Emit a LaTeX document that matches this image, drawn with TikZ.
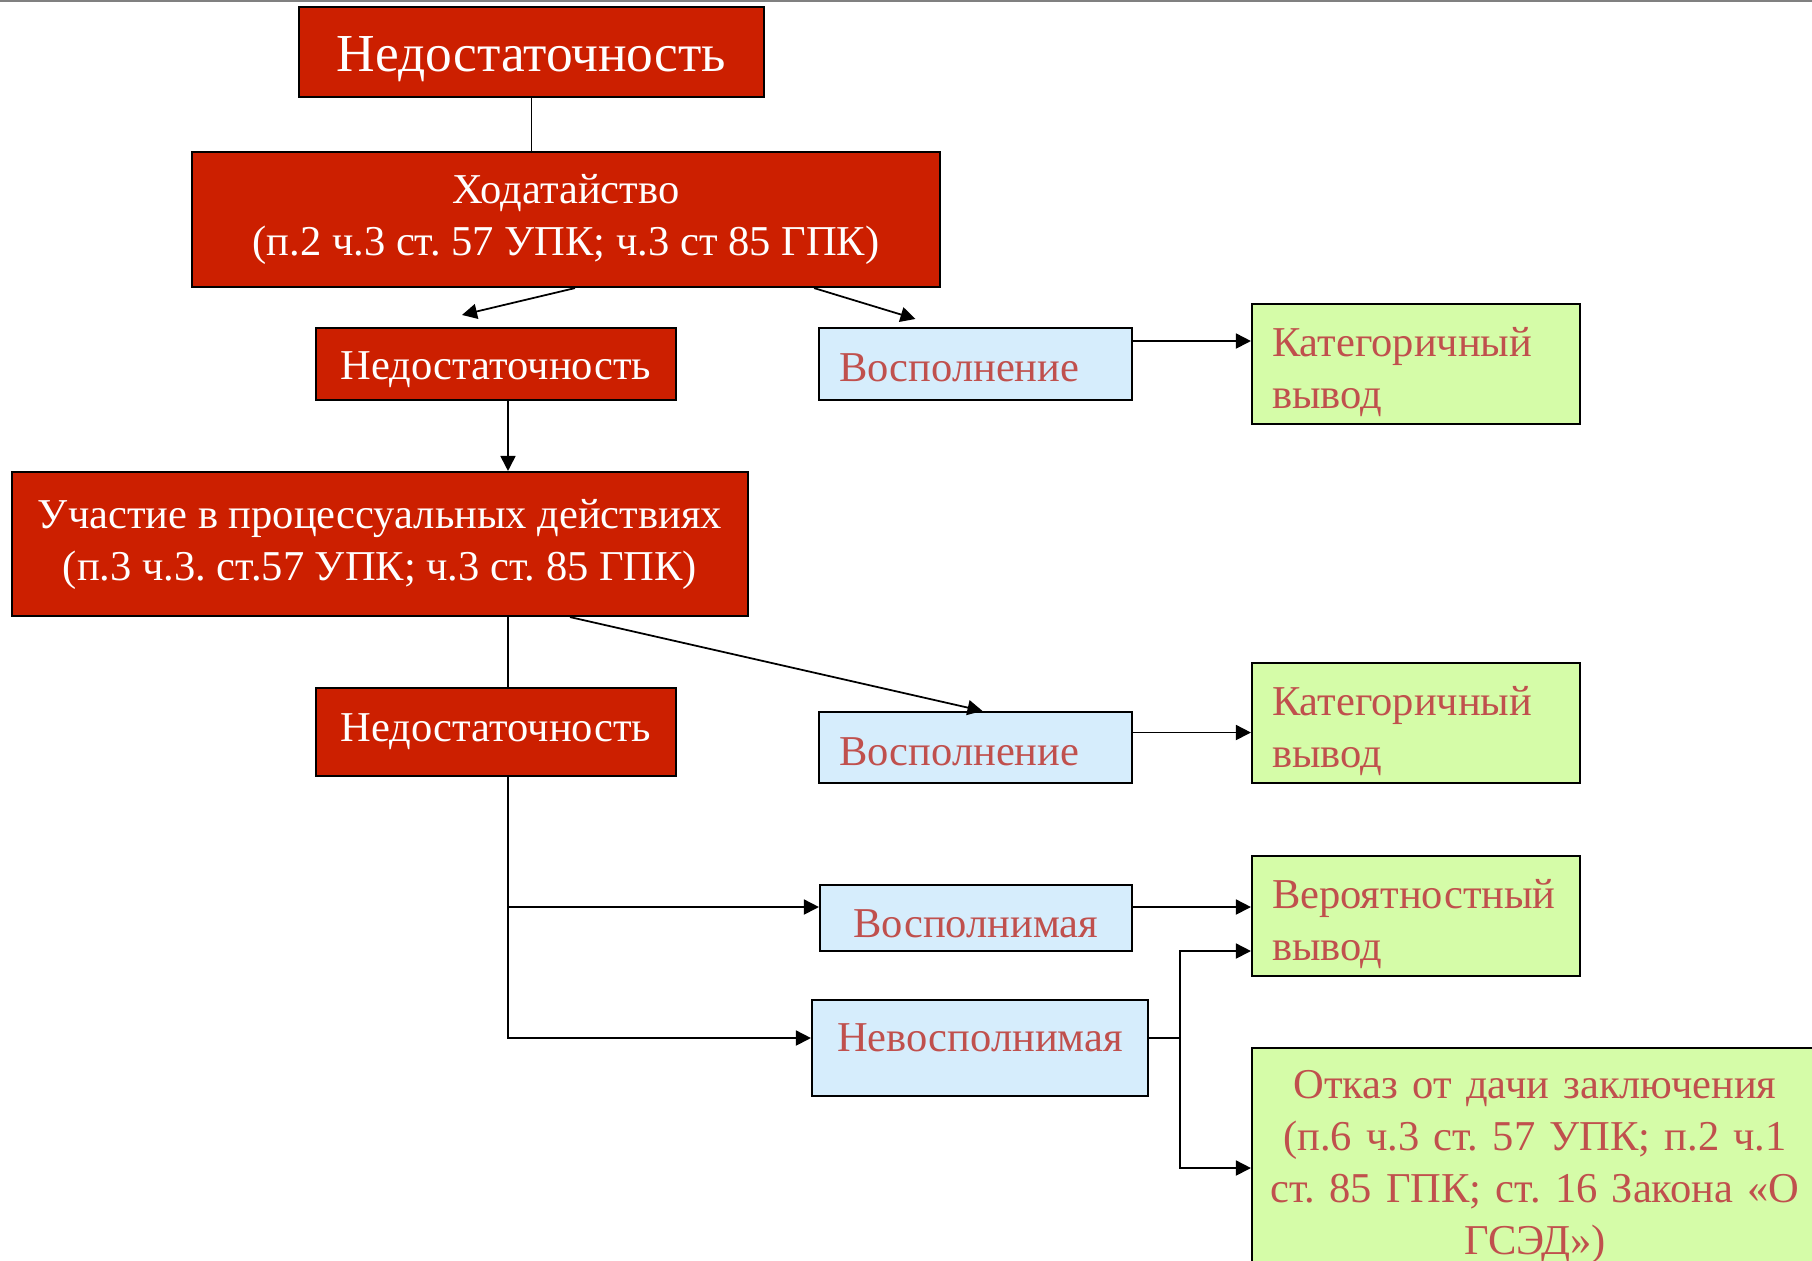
\documentclass[tikz,border=0pt]{standalone}
\usepackage{fontspec}
\setmainfont{Liberation Serif}
\frenchspacing
\usetikzlibrary{arrows.meta}
\definecolor{boxred}{RGB}{204,31,0}
\definecolor{boxblue}{RGB}{214,237,252}
\definecolor{boxgreen}{RGB}{213,252,168}
\definecolor{txtred}{RGB}{192,80,77}
\begin{document}
\begin{tikzpicture}[x=1cm,y=-1cm,
  box/.style={draw,line width=0.6pt,inner xsep=0.2cm,inner ysep=0pt,font=\fontsize{12.1}{14.8}\selectfont},
  low/.style={execute at begin node={\rule{0pt}{#1}}},
  redbox/.style={box,fill=boxred,text=white,align=center},
  bluebox/.style={box,fill=boxblue,text=txtred},
  greenbox/.style={box,fill=boxgreen,text=txtred,align=left,text width=2.88cm,minimum height=1.2cm,low=0.46cm},
  arr/.style={line width=0.5pt,-{Triangle[length=0.15cm,width=0.15cm]}},
  link/.style={line width=0.5pt}]
\clip (0,0) rectangle (18.12,12.60);
\draw[gray,line width=0.6pt](0,0.01)--(18.12,0.01);
% top of the scheme
\node[redbox,minimum width=4.65cm,minimum height=0.9cm,font=\fontsize{15.2}{18}\selectfont,low=0.5cm] (top) at (5.315,0.52) {Недостаточность};
\node[redbox,minimum width=7.48cm,minimum height=1.35cm] (motion) at (5.66,2.195) {Ходатайство\\(п.2 ч.3 ст. 57 УПК; ч.3 ст 85 ГПК)};
\node[redbox,minimum width=3.6cm,minimum height=0.72cm,low=0.39cm] (lack1) at (4.96,3.64) {Недостаточность};
\node[bluebox,align=left,text width=2.73cm,minimum height=0.72cm,low=0.36cm] (fill1) at (9.755,3.64) {Восполнение};
\node[greenbox] (cat1) at (14.16,3.64) {Категоричный\\вывод};
% participation
\node[redbox,minimum width=7.36cm,minimum height=1.44cm] (part) at (3.80,5.44) {Участие в процессуальных действиях\\(п.3 ч.3. ст.57 УПК; ч.3 ст. 85 ГПК)};
\node[redbox,minimum width=3.6cm,minimum height=0.88cm] (lack2) at (4.96,7.32) {Недостаточность};
\node[bluebox,align=left,text width=2.73cm,minimum height=0.71cm,low=0.36cm] (fill2) at (9.755,7.475) {Восполнение};
\node[greenbox] (cat2) at (14.16,7.23) {Категоричный\\вывод};
% bottom
\node[bluebox,align=center,minimum width=3.12cm,minimum height=0.66cm,low=0.39cm] (able) at (9.76,9.18) {Восполнимая};
\node[greenbox] (prob) at (14.16,9.16) {Вероятностный\\вывод};
\node[bluebox,align=center,minimum width=3.36cm,minimum height=0.96cm,text depth=0.2cm] (unable) at (9.80,10.48) {Невосполнимая};
\node[greenbox,align=center,inner xsep=0.13cm,text width=5.4cm,minimum height=2.2cm,low=0.29cm] (refuse) at (15.35,11.58) {Отказ от дачи заключения\\(п.6 ч.3 ст. 57 УПК; п.2 ч.1\\ст. 85 ГПК; ст. 16 Закона «О\\ГСЭД»)};
\coordinate (fork) at ([xshift=0.31cm,yshift=0.1cm]unable.east);

\draw[link](top.south)--(top.south |- motion.north);
\draw[arr]([xshift=0.09cm]motion.south)--([xshift=-0.34cm,yshift=0.12cm]lack1.north);
\draw[arr]([xshift=-1.27cm]motion.south east)--([xshift=-0.6cm,yshift=0.08cm]fill1.north);
\draw[arr]([yshift=0.23cm]fill1.east)--([yshift=0.23cm]fill1.east -| cat1.west);
\draw[arr]([xshift=0.12cm]lack1.south)--([xshift=0.12cm]lack1.south |- part.north);
\draw[link]([xshift=0.12cm]lack2.north |- part.south)--([xshift=0.12cm]lack2.north);
\draw[arr]([xshift=1.9cm]part.south)--([xshift=0.07cm]fill2.north);
\draw[arr]([yshift=0.15cm]fill2.east)--([yshift=0.15cm]fill2.east -| cat2.west);
\draw[arr]([xshift=0.12cm]lack2.south)|-([yshift=0.11cm]able.west);
\draw[arr]([xshift=0.12cm]lack2.south)|-([yshift=0.1cm]unable.west);
\draw[arr]([yshift=0.11cm]able.east)--([yshift=0.11cm]able.east -| prob.west);
\draw[link]([yshift=0.1cm]unable.east)--(fork);
\draw[arr](fork)|-([yshift=-0.35cm]prob.west);
\draw[arr](fork)|-([yshift=-0.1cm]refuse.west);
\end{tikzpicture}
\end{document}
